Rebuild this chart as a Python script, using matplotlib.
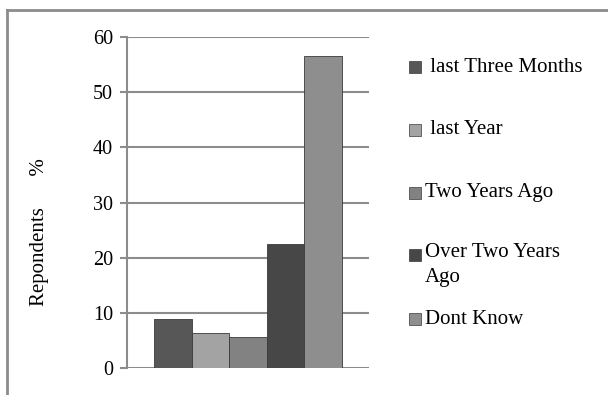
import matplotlib.pyplot as plt
from matplotlib.patches import Rectangle
from matplotlib.lines import Line2D

# =========================
# DATA
# =========================
CATEGORIES = [" last Three Months", " last Year", "Two Years Ago",
              "Over Two Years\nAgo", "Dont Know"]
VALUES = [8.8, 6.3, 5.6, 22.5, 56.6]
COLORS = ["#575757", "#a3a3a3", "#828282", "#474747", "#8e8e8e"]
Y_TICKS = [0, 10, 20, 30, 40, 50, 60]

plt.rcParams["font.family"] = ["Liberation Serif", "DejaVu Serif"]
GRID_COLOR = "#8c8c8c"

# =========================
# FIGURE + AXES
# =========================
W, H = 608, 395
fig = plt.figure(figsize=(W / 100, H / 100), dpi=100)
ax = fig.add_axes([127 / W, 1 - 368 / H, (369 - 127) / W, (368 - 37) / H])

X = list(range(len(VALUES)))
ax.bar(X, VALUES, width=1.0, color=COLORS, edgecolor="#3a3a3a",
       linewidth=0.6, zorder=3)

ax.set_xlim(-1.22, len(VALUES) - 1 + 1.22)
ax.set_ylim(0, 60)
ax.set_yticks(Y_TICKS)
ax.set_yticklabels([str(t) for t in Y_TICKS], fontsize=14.5)
ax.set_xticks([])
ax.yaxis.grid(True, color=GRID_COLOR, linewidth=1.5, zorder=0)
ax.set_axisbelow(True)
ax.tick_params(axis="y", length=5, width=1.5, color=GRID_COLOR, pad=5)

for side in ["top", "right", "bottom"]:
    ax.spines[side].set_visible(False)
ax.spines["left"].set_color(GRID_COLOR)
ax.spines["left"].set_linewidth(1.5)

# y label
fig.text(40 / W, 1 - 232 / H, "Repondents      %", rotation=90,
         ha="center", va="center", fontsize=15)

# =========================
# LEGEND (manual)
# =========================
LEG_Y = [67, 130, 193, 255, 319]
for I, (LABEL, COL) in enumerate(zip(CATEGORIES, COLORS)):
    YC = LEG_Y[I]
    fig.patches.append(Rectangle((409 / W, 1 - (YC + 6) / H), 12 / W, 12 / H,
                                 transform=fig.transFigure, facecolor=COL,
                                 edgecolor="#3a3a3a", linewidth=0.5))
    if "\n" in LABEL:
        fig.text(425 / W, 1 - (YC - 12) / H, LABEL, ha="left", va="top",
                 fontsize=15, linespacing=1.45)
    else:
        fig.text(425 / W, 1 - YC / H, LABEL, ha="left", va="center",
                 fontsize=15)

# =========================
# OUTER FRAME
# =========================
fig.add_artist(Line2D([7 / W, 7 / W], [0, 1 - 10 / H],
                      transform=fig.transFigure, color=GRID_COLOR, linewidth=2))
fig.add_artist(Line2D([7 / W, 1], [1 - 10 / H, 1 - 10 / H],
                      transform=fig.transFigure, color=GRID_COLOR, linewidth=2))

fig.savefig("out.png", dpi=100)
